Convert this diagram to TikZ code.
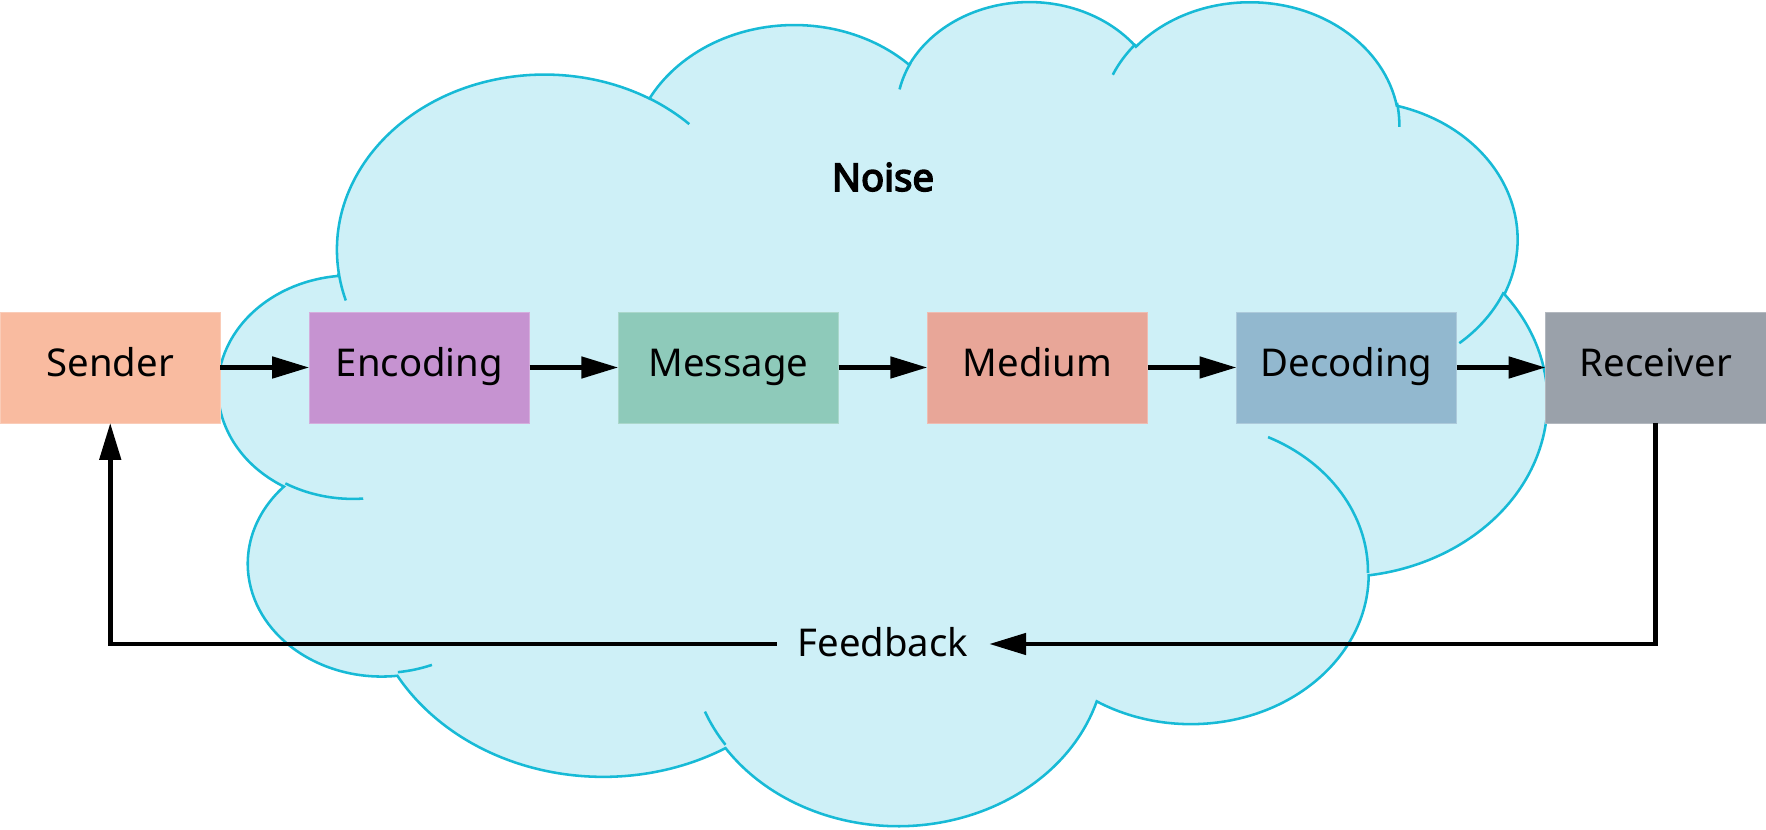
\documentclass[tikz,border=0pt]{standalone}
\usepackage{fontspec}
\setmainfont{Noto Sans}
\newfontfamily\noisefont{Noto Sans}[FakeBold=4]
\usetikzlibrary{arrows.meta}
\definecolor{csender}{HTML}{F9BBA0}
\definecolor{cencoding}{HTML}{C693D1}
\definecolor{cmessage}{HTML}{8ECABA}
\definecolor{cmedium}{HTML}{E8A698}
\definecolor{cdecoding}{HTML}{92B8CF}
\definecolor{creceiver}{HTML}{9AA1AA}
\definecolor{cloudfill}{HTML}{CEF0F7}
\definecolor{cloudstroke}{HTML}{17BAD6}
% OOXML arcTo: visual start angle -> parametric start angle and sweep
\newcommand\oopre[6]{%
  \pgfmathsetmacro#1{atan2((#3)*sin(#5),(#4)*cos(#5))}%
  \pgfmathsetmacro\ootmp{atan2((#3)*sin((#5)+(#6)),(#4)*cos((#5)+(#6)))}%
  \pgfmathsetmacro#2{mod(\ootmp-#1+720,360)}%
}
\tikzset{
  cloudshape/.style={fill=cloudfill, draw=cloudstroke, line width=1.45pt},
  cloudarc/.style={draw=cloudstroke, line width=1.45pt},
  stepbox/.style={minimum width=4.41cm, minimum height=2.22cm, inner sep=0pt, outer sep=0pt,
    draw=#1!75!white, line width=0.5pt, fill=#1,
    font=\fontsize{21.8pt}{26pt}\selectfont, text height=16.1pt, text depth=5.36pt},
  conn/.style={line width=2.6pt, -{Triangle[length=21pt,width=12pt]}},
  fblabel/.style={inner xsep=0.42cm, inner ysep=0pt, outer sep=0pt,
    font=\fontsize{21.8pt}{26pt}\selectfont, text height=16.1pt, text depth=2.2pt},
  noiselabel/.style={inner sep=0pt, font=\fontsize{21.8pt}{26pt}\noisefont}
}
\begin{document}
\begin{tikzpicture}[x=0.02cm,y=-0.02cm]
\useasboundingbox (0,0) rectangle (1766,830);
% outline arcs
\oopre\oosA\oodA{675.3}{919.0}{-190.48748}{123.78053}
\oopre\oosB\oodB{533.3}{726.7}{-144.10238}{89.94523}
\oopre\oosC\oodC{436.5}{594.5}{-145.80792}{99.72302}
\oopre\oosD\oodD{485.7}{659.5}{-130.98607}{117.24173}
\oopre\oosE\oodE{533.3}{727.3}{-78.70888}{109.02692}
\oopre\oosF\oodF{677.5}{922.0}{-46.26725}{130.26900}
\oopre\oosG\oodG{578.5}{786.7}{0.62502}{114.03333}
\oopre\oosH\oodH{675.2}{921.5}{22.45160}{115.17255}
\oopre\oosI\oodI{772.0}{1054.3}{66.24263}{75.71102}
\oopre\oosJ\oodJ{436.0}{591.8}{-274.94208}{146.73557}
\oopre\oosK\oodK{434.5}{594.5}{-246.82850}{152.51885}
% inner arcs
\oopre\iisA\iidA{434.5}{594.5}{86.74200}{26.42950}
\oopre\iisB\iidB{436.0}{591.8}{73.61047}{11.44747}
\oopre\iisC\iidC{675.2}{921.5}{137.62415}{14.08110}
\oopre\iisE\iidE{578.5}{786.7}{-70.29235}{70.91737}
\oopre\iisF\iidF{533.3}{727.3}{30.31803}{27.75150}
\oopre\iisG\iidG{485.7}{659.5}{-13.74433}{14.85890}
\oopre\iisH\iidH{485.7}{659.5}{-149.18145}{18.19537}
\oopre\iisI\iidI{436.5}{594.5}{-163.49427}{17.68635}
\oopre\iisJ\iidJ{675.3}{919.0}{-66.70695}{12.31935}
\oopre\iisK\iidK{675.3}{919.0}{157.65435}{11.85817}
\begin{scope}[shift={(4.38cm,0.012cm)},x=0.0061444cm,y=-0.00381296cm]
\draw[cloudshape] (390,1437)
  arc[x radius=675.3,y radius=919.0,start angle=\oosA,delta angle=\oodA]
  arc[x radius=533.3,y radius=726.7,start angle=\oosB,delta angle=\oodB]
  arc[x radius=436.5,y radius=594.5,start angle=\oosC,delta angle=\oodC]
  arc[x radius=485.7,y radius=659.5,start angle=\oosD,delta angle=\oodD]
  arc[x radius=533.3,y radius=727.3,start angle=\oosE,delta angle=\oodE]
  arc[x radius=677.5,y radius=922.0,start angle=\oosF,delta angle=\oodF]
  arc[x radius=578.5,y radius=786.7,start angle=\oosG,delta angle=\oodG]
  arc[x radius=675.2,y radius=921.5,start angle=\oosH,delta angle=\oodH]
  arc[x radius=772.0,y radius=1054.3,start angle=\oosI,delta angle=\oodI]
  arc[x radius=436.0,y radius=591.8,start angle=\oosJ,delta angle=\oodJ]
  arc[x radius=434.5,y radius=594.5,start angle=\oosK,delta angle=\oodK]
  -- cycle;
\draw[cloudarc]
  (469.3,2617.7) arc[x radius=434.5,y radius=594.5,start angle=\iisA,delta angle=\iidA]
  (692.8,3489.9) arc[x radius=436.0,y radius=591.8,start angle=\iisB,delta angle=\iidB]
  (1647.8,3909.0) arc[x radius=675.2,y radius=921.5,start angle=\iisC,delta angle=\iidC]
  (3412.9,2295.4) arc[x radius=578.5,y radius=786.7,start angle=\iisE,delta angle=\iidE]
  (4179.8,1535.4) arc[x radius=533.3,y radius=727.3,start angle=\iisF,delta angle=\iidF]
  (3832.4,542.6) arc[x radius=485.7,y radius=659.5,start angle=\iisG,delta angle=\iidG]
  (2907.8,395.2) arc[x radius=485.7,y radius=659.5,start angle=\iisH,delta angle=\iidH]
  (2214.1,472.0) arc[x radius=436.5,y radius=594.5,start angle=\iisI,delta angle=\iidI]
  (1400.0,519.2) arc[x radius=675.3,y radius=919.0,start angle=\iisJ,delta angle=\iidJ]
  (412.7,1578.9) arc[x radius=675.3,y radius=919.0,start angle=\iisK,delta angle=\iidK];
\end{scope}
\node[noiselabel, anchor=base] (noise) at (883,191) {Noise};
\node[stepbox=csender] (sender) at (110.25,367.5) {Sender};
\node[stepbox=cencoding] (encoding) at (419.35,367.5) {Encoding};
\node[stepbox=cmessage] (message) at (728.45,367.5) {Message};
\node[stepbox=cmedium] (medium) at (1037.55,367.5) {Medium};
\node[stepbox=cdecoding] (decoding) at (1346.65,367.5) {Decoding};
\node[stepbox=creceiver] (receiver) at (1655.75,367.5) {Receiver};
\draw[conn] (sender) -- (encoding);
\draw[conn] (encoding) -- (message);
\draw[conn] (message) -- (medium);
\draw[conn] (medium) -- (decoding);
\draw[conn] (decoding) -- (receiver);
\node[fblabel] (fb) at (883,644) {Feedback};
\draw[conn] (receiver.south) |- (fb.east);
\draw[conn] (fb.west) -| (sender.south);
\end{tikzpicture}
\end{document}
